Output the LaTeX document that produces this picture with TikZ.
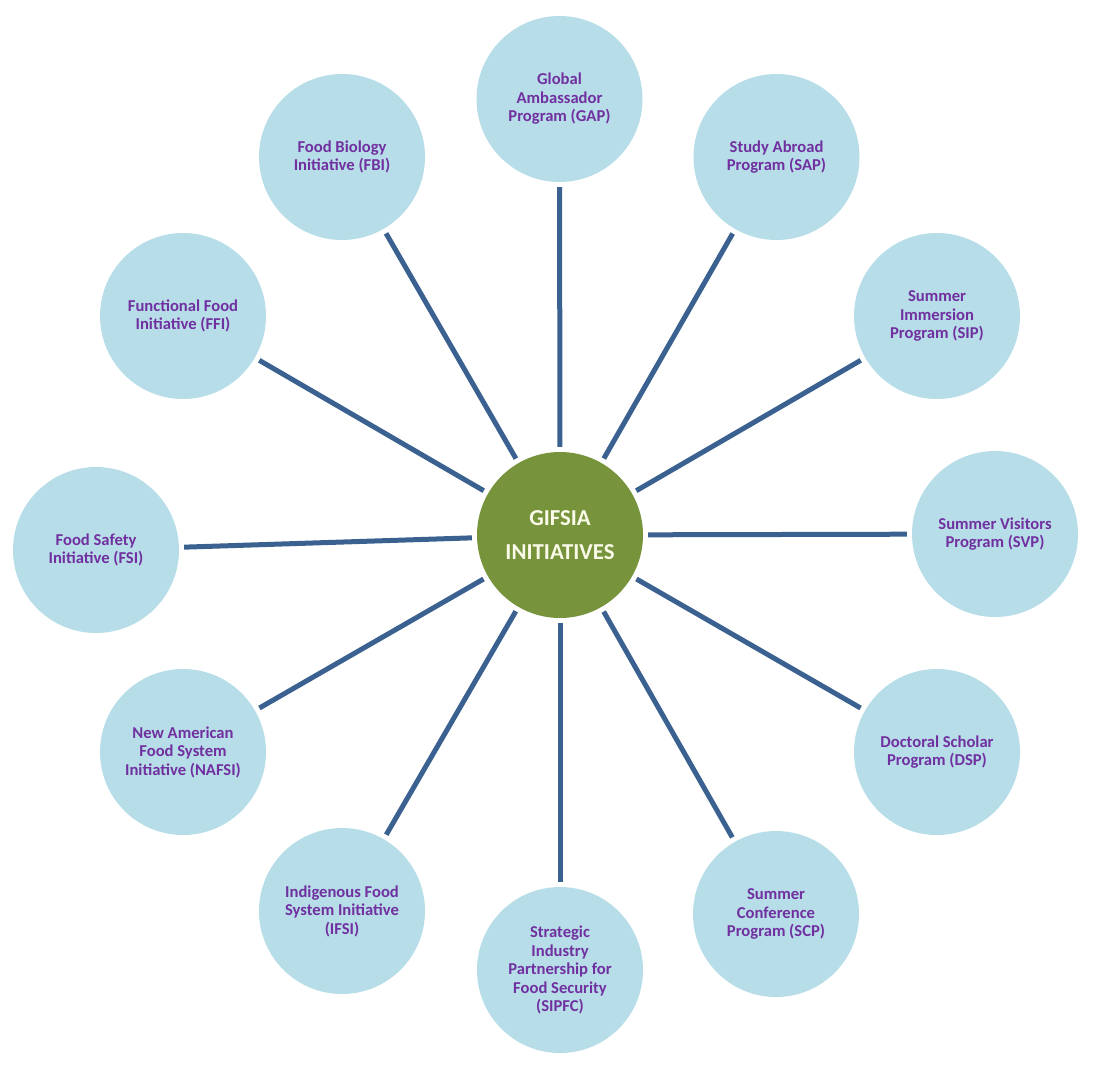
\documentclass[tikz,border=0pt]{standalone}
\usepackage{fontspec}
\setmainfont{Carlito}
\definecolor{circfill}{HTML}{B7DDE8}
\definecolor{hubgreen}{HTML}{77933C}
\definecolor{hubtext}{HTML}{FAFAE8}
\definecolor{txtpurple}{HTML}{7030A0}
\definecolor{spokeblue}{HTML}{3A6190}
\begin{document}
\begin{tikzpicture}[x=1pt,y=-1pt,
  outer/.style={circle,fill=circfill,minimum size=166pt,inner sep=0pt,align=center,text=txtpurple,font=\fontsize{16.6}{18.5}\selectfont\bfseries},
  hub/.style={circle,fill=hubgreen,minimum size=166pt,inner sep=0pt,align=center,text=hubtext,font=\fontsize{22.8}{34}\selectfont\bfseries},
  spoke/.style={draw=spokeblue,line width=5pt,shorten >=5pt,shorten <=5pt}]
\fill[white] (0,0) rectangle (1099,1068);
\useasboundingbox (0,0) rectangle (1099,1068);

\node[hub] (c) at (560,535) {GIFSIA\\INITIATIVES};

\node[outer] (gap) at (559.5,99) {Global\\Ambassador\\Program (GAP)};
\node[outer] (sap) at (776.5,157) {Study Abroad\\Program (SAP)};
\node[outer] (sip) at (937,316) {Summer\\Immersion\\Program (SIP)};
\node[outer] (svp) at (995,534) {Summer Visitors\\Program (SVP)};
\node[outer] (dsp) at (937,752) {Doctoral Scholar\\Program (DSP)};
\node[outer] (scp) at (776,914) {Summer\\Conference\\Program (SCP)};
\node[outer] (sipfc) at (560,970) {Strategic\\Industry\\Partnership for\\Food Security\\(SIPFC)};
\node[outer] (ifsi) at (342,911) {Indigenous Food\\System Initiative\\(IFSI)};
\node[outer] (nafsi) at (183,752) {New American\\Food System\\Initiative (NAFSI)};
\node[outer] (fsi) at (96,550) {Food Safety\\Initiative (FSI)};
\node[outer] (ffi) at (183,316) {Functional Food\\Initiative (FFI)};
\node[outer] (fbi) at (342,157) {Food Biology\\Initiative (FBI)};

\foreach \n in {gap,sap,sip,svp,dsp,scp,sipfc,ifsi,nafsi,fsi,ffi,fbi}
  \draw[spoke] (c) -- (\n);
\end{tikzpicture}
\end{document}
